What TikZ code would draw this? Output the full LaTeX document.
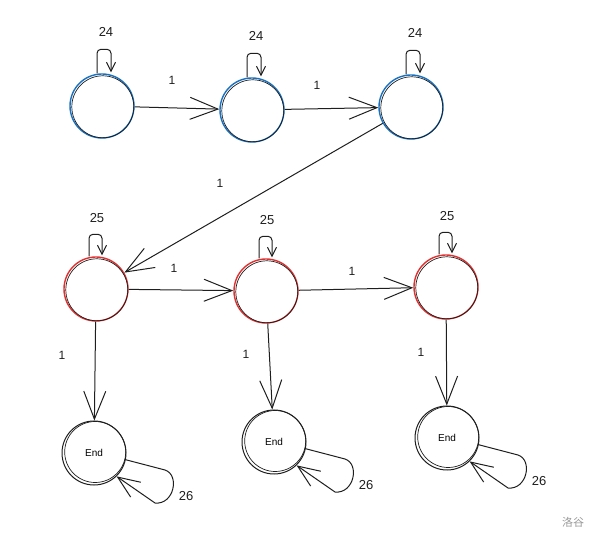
\documentclass[tikz,border=0pt]{standalone}
\usepackage{fontspec}
\setmainfont{Liberation Sans}
\newfontfamily\cjkfont{Noto Sans CJK SC}
\usetikzlibrary{arrows.meta}
\definecolor{skBlue}{HTML}{1971C2}
\definecolor{skRed}{HTML}{E03131}
\definecolor{skInk}{HTML}{1E1E1E}
\definecolor{skMark}{HTML}{9A9A9A}

\tikzset{
  state/.style={circle,line width=1.4pt,minimum size=64pt,inner sep=0pt},
  bluestate/.style={state,draw=skBlue},
  redstate/.style={state,draw=skRed},
  endstate/.style={state,draw=skInk,line width=1pt,font=\fontsize{10}{12}\selectfont},
  arr/.style={-{Straight Barb[length=28pt,width=22pt]},draw=skInk,line width=1pt},
  looparr/.style={-{Straight Barb[length=9pt,width=9pt]},draw=skInk,line width=1pt,rounded corners=4pt},
  endarr/.style={-{Straight Barb[length=22pt,width=18pt]},draw=skInk,line width=1pt},
  lbl/.style={text=skInk,font=\fontsize{13}{15}\selectfont},
  elbl/.style={text=skInk,font=\fontsize{12}{14}\selectfont}
}

\begin{document}
\begin{tikzpicture}[x=1pt,y=1pt]
  \useasboundingbox (0,0) rectangle (599,543);

  % states
  \node[bluestate] (a1) at (102,437) {};
  \node[bluestate] (a2) at (252,433) {};
  \node[bluestate] (a3) at (411,436) {};
  \node[redstate] (b1) at (96,254) {};
  \node[redstate] (b2) at (266,252) {};
  \node[redstate] (b3) at (446,256) {};
  \node[endstate] (c1) at (94,90) {End};
  \node[endstate] (c2) at (274,101) {End};
  \node[endstate] (c3) at (447,105) {End};

  % second pencil stroke
  \foreach \n in {a1,a2,a3,b1,b2,b3}
    \draw[skInk,line width=0.7pt] ([shift={(0.8,-0.8)}]\n.center) circle (31);
  \foreach \n in {c1,c2,c3}
    \draw[skInk,line width=0.7pt] ([shift={(1.2,1)}]\n.center) circle (30.5);

  % self loops
  \foreach \n in {a1,a2,a3} {
    \draw[looparr] ([xshift=-5pt]\n.north) -- ++(0,24) -- ++(14,0) -- ++(0,-23);
    \node[lbl] (\n-w) at ([xshift=4pt,yshift=41pt]\n.north) {24};
  }
  \foreach \n in {b1,b2,b3} {
    \draw[looparr] ([xshift=-7pt]\n.north) -- ++(0,22) -- ++(13,0) -- ++(0,-21);
    \node[lbl] (\n-w) at ([xshift=1pt,yshift=38pt]\n.north) {25};
  }
  \foreach \n in {c1,c2,c3} {
    \draw[endarr] (\n.-12) -- ([shift={(71,-17)}]\n.center)
      .. controls ([shift={(86,-22)}]\n.center) and ([shift={(80,-52)}]\n.center) .. ([shift={(61,-50)}]\n.center)
      -- (\n.-46);
    \node[lbl] (\n-w) at ([shift={(92,-43)}]\n.center) {26};
  }

  % transitions
  \draw[arr] (a1) -- (a2);
  \draw[arr] (a2) -- (a3);
  \draw[arr] (a3) -- (b1);
  \draw[arr] (b1) -- (b2);
  \draw[arr] (b2) -- (b3);
  \draw[arr] (b1) -- (c1);
  \draw[arr] (b2) -- (c2);
  \draw[arr] (b3) -- (c3);

  \node[elbl] (t1) at (172,463) {1};
  \node[elbl] (t2) at (317,458) {1};
  \node[elbl] (t3) at (220,360) {1};
  \node[elbl] (t4) at (174,275) {1};
  \node[elbl] (t5) at (352,272) {1};
  \node[elbl] (t6) at (62,188) {1};
  \node[elbl] (t7) at (246,189) {1};
  \node[elbl] (t8) at (421,191) {1};

  \node[text=skMark,font=\cjkfont\fontsize{11}{13}\selectfont] (mark) at (573,21) {洛谷};
\end{tikzpicture}
\end{document}
